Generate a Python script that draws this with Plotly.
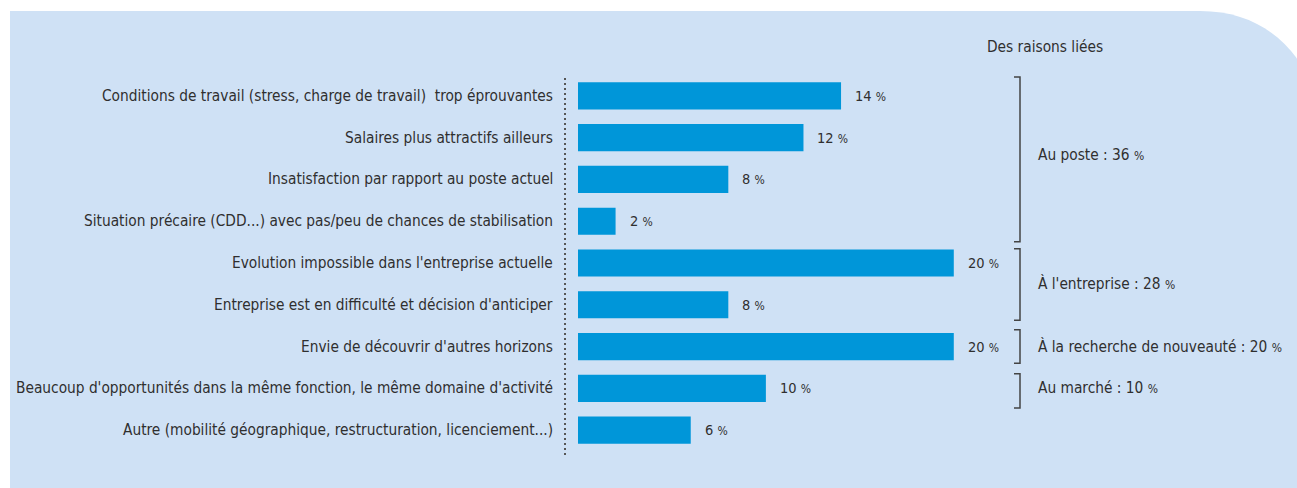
import plotly.graph_objects as go

# Reasons given for leaving, share of respondents (%)
reasons = [
    "Conditions de travail (stress, charge de travail)  trop éprouvantes",
    "Salaires plus attractifs ailleurs",
    "Insatisfaction par rapport au poste actuel",
    "Situation précaire (CDD...) avec pas/peu de chances de stabilisation",
    "Evolution impossible dans l'entreprise actuelle",
    "Entreprise est en difficulté et décision d'anticiper",
    "Envie de découvrir d'autres horizons",
    "Beaucoup d'opportunités dans la même fonction, le même domaine d'activité",
    "Autre (mobilité géographique, restructuration, licenciement...)",
]
shares = [14, 12, 8, 2, 20, 8, 20, 10, 6]

# Grouped totals shown by the brackets
group_labels = ["Au poste", "À l'entreprise", "À la recherche de nouveauté", "Au marché"]
group_totals = [36, 28, 20, 10]
group_first = [0, 4, 6, 7]
group_last = [3, 5, 6, 7]

W, H = 1297, 488
ML, MR, MT, MB = 578, 5, 75, 37
XMAX = 38.0
PW, PH = W - ML - MR, H - MT - MB

TEXT = "#2f2f2f"
BAR = "#0096d9"
PANEL = "#cfe1f5"
FONT = "Liberation Sans Narrow, DejaVu Sans Condensed, sans-serif"
FS = 15.3


def px_x(px):
    return (px - ML) / PW


def px_y(py):
    return (H - MB - py) / PH


def cat_y(idx):
    # category index -> pixel row (reversed axis, 9 rows)
    return MT + (idx + 0.5) * PH / len(reasons)


fig = go.Figure()
fig.add_trace(go.Bar(
    x=shares, y=list(range(len(reasons))), orientation="h",
    marker=dict(color=BAR, line=dict(width=0)),
    hoverinfo="skip", width=0.65,
))

shapes = []
# light blue panel with a rounded top-right corner
shapes.append(dict(
    type="path", xref="paper", yref="paper", layer="below",
    path=(f"M {px_x(10)},{px_y(500)} L {px_x(10)},{px_y(11)} L {px_x(1200)},{px_y(11)} "
          f"C {px_x(1255)},{px_y(11)} {px_x(1290)},{px_y(40)} {px_x(1310)},{px_y(80)} "
          f"L {px_x(1310)},{px_y(500)} Z"),
    fillcolor=PANEL, line=dict(width=0),
))
# dotted separator between labels and bars
shapes.append(dict(
    type="line", xref="paper", yref="paper",
    x0=px_x(565), x1=px_x(565), y0=px_y(78), y1=px_y(458),
    line=dict(color="#555555", width=2, dash="2px,3px"),
))

annotations = []
for i, (name, v) in enumerate(zip(reasons, shares)):
    annotations.append(dict(
        x=px_x(555), xref="paper", y=i, yref="y", text=name, showarrow=False,
        xanchor="right", yanchor="middle", font=dict(size=FS, color=TEXT, family=FONT),
    ))
    annotations.append(dict(
        x=v, xref="x", y=i, yref="y",
        text=f"{v} <span style='font-size:12px'>%</span>", showarrow=False,
        xanchor="left", yanchor="middle", xshift=12,
        font=dict(size=14.5, color=TEXT, family=FONT),
    ))

# bracket extents (in category units, padded around each group)
pad_top = [0.45, 0.34, 0.40, 0.35]
pad_bot = [0.49, 0.37, 0.40, 0.47]
label_shift = [-0.08, 0, 0, 0]
bx = 1020
for lab, tot, a, b, pt, pb, ls in zip(group_labels, group_totals, group_first, group_last,
                                      pad_top, pad_bot, label_shift):
    y0 = cat_y(a - pt)
    y1 = cat_y(b + pb)
    shapes.append(dict(
        type="path", xref="paper", yref="paper",
        path=(f"M {px_x(bx - 6)},{px_y(y0)} L {px_x(bx)},{px_y(y0)} "
              f"L {px_x(bx)},{px_y(y1)} L {px_x(bx - 6)},{px_y(y1)}"),
        line=dict(color="#444444", width=1.5),
    ))
    mid = (a + b) / 2 + ls
    annotations.append(dict(
        x=px_x(1036), xref="paper", y=mid, yref="y",
        text=f"{lab} : {tot} <span style='font-size:12px'>%</span>", showarrow=False,
        xanchor="left", yanchor="middle", font=dict(size=FS, color=TEXT, family=FONT),
    ))

annotations.append(dict(
    x=px_x(985), xref="paper", y=px_y(47), yref="paper", text="Des raisons liées",
    showarrow=False, xanchor="left", yanchor="middle",
    font=dict(size=FS, color=TEXT, family=FONT),
))

fig.update_layout(
    width=W, height=H,
    margin=dict(l=ML, r=MR, t=MT, b=MB, autoexpand=False),
    paper_bgcolor="white", plot_bgcolor="rgba(0,0,0,0)",
    showlegend=False, shapes=shapes, annotations=annotations,
    xaxis=dict(range=[0, XMAX], visible=False, fixedrange=True),
    yaxis=dict(range=[len(reasons) - 0.5, -0.5], visible=False, fixedrange=True),
    font=dict(family=FONT, color=TEXT),
)

fig.write_html("out.html", config={"displayModeBar": False})
